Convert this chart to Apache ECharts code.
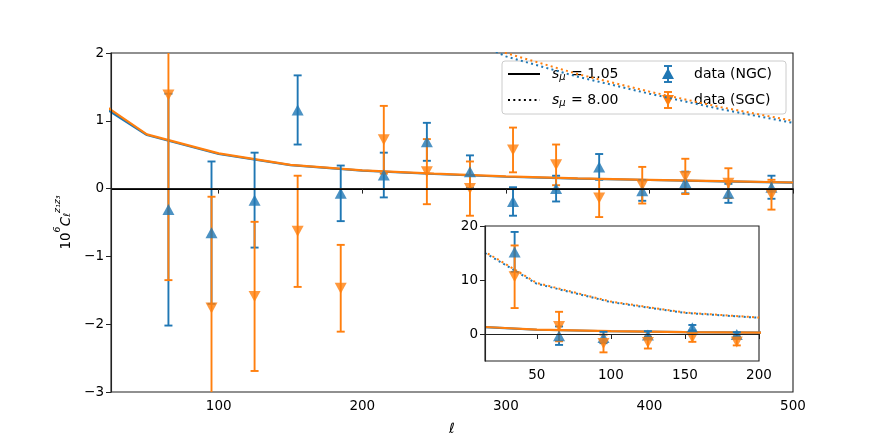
<!DOCTYPE html>
<html>
<head>
<meta charset="utf-8">
<script src="https://cdn.jsdelivr.net/npm/echarts@6/dist/echarts.min.js"></script>
<style>
  html, body { margin: 0; padding: 0; background: #fff; }
  #chart { width: 881px; height: 441px; }
</style>
</head>
<body>
<div id="chart"></div>
<script>
// ── Data ────────────────────────────────────────────────────────────────────
const ells = [35, 65, 95, 125, 155, 185, 215, 245, 275, 305, 335, 365, 395, 425, 455, 485];
const ngc = [15.2, -0.31, -0.65, -0.17, 1.16, -0.07, 0.20, 0.69, 0.25, -0.19, 0.00, 0.32, -0.03, 0.09, -0.07, 0.02];
const ngcErr = [3.7, 1.71, 1.05, 0.70, 0.51, 0.41, 0.33, 0.28, 0.24, 0.21, 0.19, 0.19, 0.15, 0.16, 0.14, 0.17];
const sgc = [10.6, 1.38, -1.76, -1.59, -0.63, -1.47, 0.72, 0.25, 0.00, 0.57, 0.35, -0.14, 0.05, 0.18, 0.08, -0.09];
const sgcErr = [5.8, 2.73, 1.64, 1.10, 0.82, 0.64, 0.50, 0.48, 0.40, 0.33, 0.30, 0.28, 0.27, 0.26, 0.22, 0.22];

// theory curves
const thEll = [15, 25, 50, 100, 150, 200, 250, 300, 350, 400, 450, 500];
const solidNGC = [1.27, 1.13, 0.79, 0.51, 0.345, 0.265, 0.215, 0.175, 0.147, 0.127, 0.108, 0.088];
const solidSGC = [1.30, 1.16, 0.80, 0.52, 0.35, 0.27, 0.22, 0.18, 0.15, 0.13, 0.11, 0.09];
const dotNGC = [15.0, 13.4, 9.3, 5.9, 3.9, 3.0, 2.45, 1.95, 1.65, 1.40, 1.17, 0.97];
const dotSGC = [15.2, 13.6, 9.45, 6.0, 3.97, 3.05, 2.5, 2.0, 1.69, 1.43, 1.2, 1.0];

const mainXTicks = [100, 200, 300, 400, 500];
const mainYTicks = [-3, -2, -1, 0, 1, 2];
const insetXTicks = [50, 100, 150, 200];
const insetYTicks = [0, 10, 20];

const BLUE = "#1f77b4";
const ORANGE = "#ff7f0e";
const FONT = "DejaVu Sans";
const DOT = [2, 3.3];

// ── Helpers ────────────────────────────────────────────────────────────────
const pairs = (xs, ys) => xs.map((x, i) => [x, ys[i]]);
const triples = (xs, ys, es) => xs.map((x, i) => [x, ys[i], es[i]]);
const fmt = (v) => (v < 0 ? "\u2212" + Math.abs(v) : String(v));

function errorBars(color) {
  return function (params, api) {
    const x = api.value(0), y = api.value(1), e = api.value(2);
    const top = api.coord([x, y + e]);
    const bot = api.coord([x, y - e]);
    const cap = 4;
    const style = { stroke: color, lineWidth: 1.9 };
    return {
      type: "group",
      children: [
        { type: "line", shape: { x1: top[0], y1: top[1], x2: bot[0], y2: bot[1] }, style },
        { type: "line", shape: { x1: top[0] - cap, y1: top[1], x2: top[0] + cap, y2: top[1] }, style },
        { type: "line", shape: { x1: bot[0] - cap, y1: bot[1], x2: bot[0] + cap, y2: bot[1] }, style },
      ],
    };
  };
}

function xAxis(gridIndex, min, max, ticks, name) {
  return {
    type: "value", gridIndex, min, max,
    name, nameLocation: "middle", nameGap: 30,
    nameTextStyle: { fontFamily: FONT, fontSize: 14, fontStyle: "italic", color: "#000" },
    axisLine: { show: true, lineStyle: { color: "#222", width: 1.1 } },
    axisTick: { show: true, length: 5, lineStyle: { color: "#222" }, customValues: ticks },
    axisLabel: { color: "#000", fontFamily: FONT, fontSize: 13.5, margin: 7, customValues: ticks, formatter: fmt },
    splitLine: { show: false },
    z: 10,
  };
}

function yAxis(gridIndex, min, max, ticks) {
  return {
    type: "value", gridIndex, min, max,
    axisLine: { show: true, lineStyle: { color: "#222", width: 1.1 } },
    axisTick: { show: true, length: 5, lineStyle: { color: "#222" }, customValues: ticks },
    axisLabel: { color: "#000", fontFamily: FONT, fontSize: 13.5, margin: 7, customValues: ticks, formatter: fmt },
    splitLine: { show: false },
    z: 10,
  };
}

function seriesSet(xi, yi, z) {
  return [
    { type: "line", xAxisIndex: xi, yAxisIndex: yi, data: pairs(thEll, solidNGC), showSymbol: false, silent: true,
      lineStyle: { color: BLUE, width: 2.2 }, z: z },
    { type: "line", xAxisIndex: xi, yAxisIndex: yi, data: pairs(thEll, solidSGC), showSymbol: false, silent: true,
      lineStyle: { color: ORANGE, width: 2.2 }, z: z },
    { type: "line", xAxisIndex: xi, yAxisIndex: yi, data: pairs(thEll, dotNGC), showSymbol: false, silent: true,
      lineStyle: { color: BLUE, width: 2, type: DOT }, z: z },
    { type: "line", xAxisIndex: xi, yAxisIndex: yi, data: pairs(thEll, dotSGC), showSymbol: false, silent: true,
      lineStyle: { color: ORANGE, width: 2, type: DOT, dashOffset: 2 }, z: z },
    { type: "custom", xAxisIndex: xi, yAxisIndex: yi, data: triples(ells, ngc, ngcErr),
      renderItem: errorBars(BLUE), clip: true, silent: true, z: z + 1 },
    { type: "scatter", xAxisIndex: xi, yAxisIndex: yi, data: pairs(ells, ngc), symbol: "triangle",
      symbolSize: [12, 11], itemStyle: { color: BLUE }, clip: true, silent: true, z: z + 2 },
    { type: "custom", xAxisIndex: xi, yAxisIndex: yi, data: triples(ells, sgc, sgcErr),
      renderItem: errorBars(ORANGE), clip: true, silent: true, z: z + 1 },
    { type: "scatter", xAxisIndex: xi, yAxisIndex: yi, data: pairs(ells, sgc), symbol: "triangle",
      symbolRotate: 180, symbolSize: [12, 11], itemStyle: { color: ORANGE }, clip: true, silent: true, z: z + 2 },
  ];
}

// ── Chart ──────────────────────────────────────────────────────────────────
const chart = echarts.init(document.getElementById("chart"), null, { renderer: "canvas" });

const mainSeries = seriesSet(0, 0, 2);
mainSeries[0].markLine = {
  silent: true, symbol: "none", label: { show: false },
  lineStyle: { color: "#000", width: 2, type: "solid" },
  data: [{ yAxis: 0 }],
};
const insetSeries = seriesSet(1, 1, 12);
insetSeries[0].markLine = {
  silent: true, symbol: "none", label: { show: false },
  lineStyle: { color: "#000", width: 1.8, type: [5.5, 2.5] },
  data: [{ yAxis: 0 }],
};

const yName = {
  name: "{a|10}{s|6}{c|C}{l|\u2113}{s|z\u2081z\u2083}",
  nameLocation: "middle",
  nameGap: 38,
  nameRotate: 90,
  nameTextStyle: {
    color: "#000",
    rich: {
      a: { fontFamily: FONT, fontSize: 13.5, color: "#000", lineHeight: 20, verticalAlign: "bottom" },
      s: { fontFamily: FONT, fontSize: 9.5, color: "#000", fontStyle: "italic", lineHeight: 20, verticalAlign: "top" },
      c: { fontFamily: FONT, fontSize: 13.5, color: "#000", fontStyle: "italic", lineHeight: 20, verticalAlign: "bottom" },
      l: { fontFamily: FONT, fontSize: 9.5, color: "#000", fontStyle: "italic", lineHeight: 20, verticalAlign: "bottom" },
    },
  },
};

const legendText = () => ({
  a: { fontFamily: FONT, fontSize: 14, fill: "#000", fontStyle: "italic" },
  b: { fontFamily: FONT, fontSize: 10, fill: "#000", fontStyle: "italic", padding: [6, 1, 0, 0] },
  c: { fontFamily: FONT, fontSize: 14, fill: "#000" },
});

function legendMarker(x, y, color, down) {
  return {
    type: "group", x, y,
    children: [
      { type: "line", shape: { x1: 0, y1: -8, x2: 0, y2: 8 }, style: { stroke: color, lineWidth: 1.9 } },
      { type: "line", shape: { x1: -4, y1: -8, x2: 4, y2: -8 }, style: { stroke: color, lineWidth: 1.9 } },
      { type: "line", shape: { x1: -4, y1: 8, x2: 4, y2: 8 }, style: { stroke: color, lineWidth: 1.9 } },
      { type: "polygon", shape: { points: down ? [[-6, -5], [6, -5], [0, 6]] : [[-6, 5], [6, 5], [0, -6]] },
        style: { fill: color } },
    ],
  };
}

chart.setOption({
  animation: false,
  backgroundColor: "#fff",
  grid: [
    { left: 111, right: 88, top: 53, bottom: 49, show: true, borderColor: "#222", borderWidth: 1.1, backgroundColor: "#fff", z: 0 },
    { left: 485, right: 122, top: 226, bottom: 80, show: true, borderColor: "#222", borderWidth: 1.1, backgroundColor: "#fff", z: 10 },
  ],
  xAxis: [
    xAxis(0, 25, 500, mainXTicks, "\u2113"),
    Object.assign(xAxis(1, 15, 200, insetXTicks, ""), { z: 20 }),
  ],
  yAxis: [
    Object.assign(yAxis(0, -3, 2, mainYTicks), yName),
    Object.assign(yAxis(1, -5, 20, insetYTicks), { z: 20 }),
  ],
  series: mainSeries.concat(insetSeries),
  graphic: [
    {
      type: "group", z: 30,
      children: [
        { type: "rect", shape: { x: 502, y: 61, width: 284, height: 53, r: 3 },
          style: { fill: "rgba(255,255,255,0.8)", stroke: "#cccccc", lineWidth: 1 } },
        { type: "line", shape: { x1: 508, y1: 74, x2: 540, y2: 74 }, style: { stroke: "#000", lineWidth: 2 } },
        { type: "line", shape: { x1: 508, y1: 100, x2: 540, y2: 100 },
          style: { stroke: "#000", lineWidth: 2, lineDash: DOT } },
        { type: "text", x: 552, y: 74,
          style: { text: "{a|s}{b|\u03bc}{c| = 1.05}", rich: legendText(), verticalAlign: "middle" } },
        { type: "text", x: 552, y: 100,
          style: { text: "{a|s}{b|\u03bc}{c| = 8.00}", rich: legendText(), verticalAlign: "middle" } },
        legendMarker(668, 74, BLUE, false),
        legendMarker(668, 100, ORANGE, true),
        { type: "text", x: 694, y: 74,
          style: { text: "data (NGC)", fontFamily: FONT, fontSize: 14, fill: "#000", verticalAlign: "middle" } },
        { type: "text", x: 694, y: 100,
          style: { text: "data (SGC)", fontFamily: FONT, fontSize: 14, fill: "#000", verticalAlign: "middle" } },
      ],
    },
  ],
});

window.addEventListener("resize", () => chart.resize());
</script>
</body>
</html>
